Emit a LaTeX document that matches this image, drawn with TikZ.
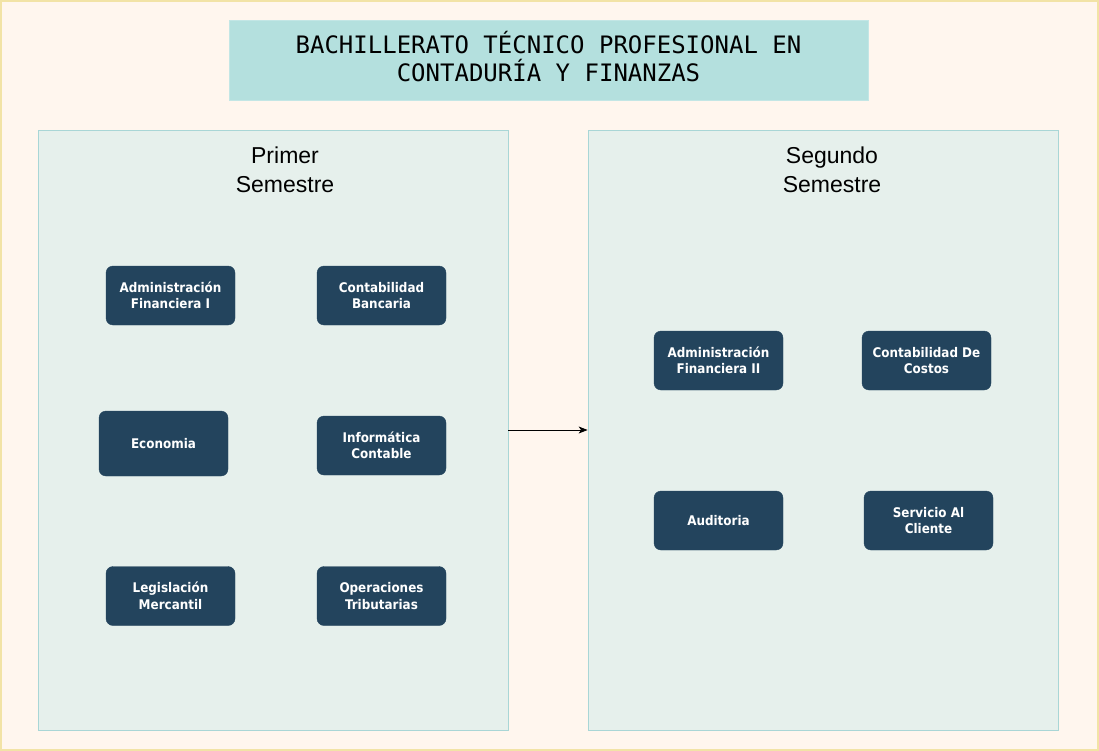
\documentclass[tikz,border=0pt]{standalone}
\usepackage{fontspec}
\setmainfont{DejaVu Sans}
\newfontfamily\monof{DejaVu Sans Mono}
\newfontfamily\nodef{DejaVu Sans Condensed}
\newfontfamily\headf{Liberation Sans}
\usetikzlibrary{arrows.meta}
\definecolor{bgc}{HTML}{FFF6EE}
\definecolor{bord}{HTML}{F2E3A6}
\definecolor{titlec}{HTML}{B4E0DE}
\definecolor{panelc}{HTML}{E6F0EC}
\definecolor{paneld}{HTML}{A9D6D6}
\definecolor{boxc}{HTML}{23445D}
\tikzset{
  x=1pt,y=-1pt,
  panel/.style={draw=paneld,fill=panelc,line width=0.8pt},
  subj/.style={fill=boxc,draw=boxc,rounded corners=7pt,text=white,minimum width=129pt,minimum height=59pt,align=center,font=\nodef\bfseries\fontsize{13.3}{16.5}\selectfont,inner sep=0pt},
  head/.style={align=center,font=\headf\fontsize{23}{28.5}\selectfont,text=black},
}
\begin{document}
\begin{tikzpicture}
\useasboundingbox (0,0) rectangle (1099,751);
\fill[bgc] (0,0) rectangle (1099,751);
\draw[bord,line width=2pt] (1,1) rectangle (1098,750);
\node[fill=titlec,draw=titlec!80!white,minimum width=639pt,minimum height=80pt,inner sep=0pt] (title) at (548.5,60) {};
\node[align=center,font=\monof\fontsize{24}{28}\selectfont,inner sep=0pt] (titletext) at (548.5,57) {BACHILLERATO TÉCNICO PROFESIONAL EN\\CONTADURÍA Y FINANZAS};
\node[panel,minimum width=470pt,minimum height=600pt,inner sep=0pt] (p1) at (273,430) {};
\node[panel,minimum width=470pt,minimum height=600pt,inner sep=0pt] (p2) at (823,430) {};
\node[head] (h1) at (285,170) {Primer\\Semestre};
\node[head] (h2) at (832,170) {Segundo\\Semestre};
\node[subj] (a1) at (170.5,295.5) {Administración\\Financiera I};
\node[subj] (a2) at (381.5,295.5) {Contabilidad\\Bancaria};
\node[subj,minimum height=65pt] (a3) at (163.5,443.5) {Economia};
\node[subj] (a4) at (381.5,445.5) {Informática\\Contable};
\node[subj] (a5) at (170.5,596) {Legislación\\Mercantil};
\node[subj] (a6) at (381.5,596) {Operaciones\\Tributarias};
\node[subj] (b1) at (718.5,360.5) {Administración\\Financiera II};
\node[subj] (b2) at (926.5,360.5) {Contabilidad De\\Costos};
\node[subj] (b3) at (718.5,520.5) {Auditoria};
\node[subj] (b4) at (928.5,520.5) {Servicio Al\\Cliente};
\draw[-{Stealth[length=9pt,width=7pt,inset=2.5pt]},line width=0.9pt] (p1.east) -- (p2.west);
\end{tikzpicture}
\end{document}
